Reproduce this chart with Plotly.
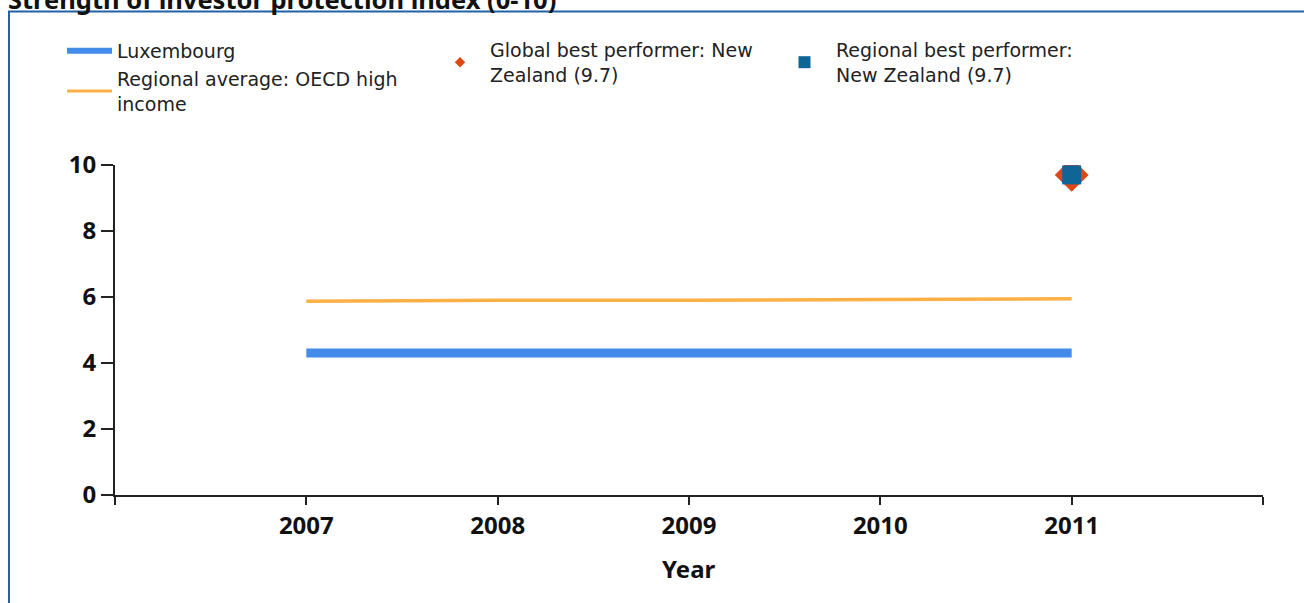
import plotly.graph_objects as go

years = [2007, 2008, 2009, 2010, 2011]
luxembourg = [4.3, 4.3, 4.3, 4.3, 4.3]
regional_avg = [5.87, 5.9, 5.9, 5.93, 5.95]
best_year = [2011]
global_best = [9.7]
regional_best = [9.7]

x_tickvals = [2006, 2007, 2008, 2009, 2010, 2011, 2012]
x_ticktext = ["", "2007", "2008", "2009", "2010", "2011", ""]
y_tickvals = [0, 2, 4, 6, 8, 10]

name_lux = "Luxembourg"
name_avg = "Regional average: OECD high<br>income"
name_glob = "Global best performer: New<br>Zealand (9.7)"
name_reg = "Regional best performer:<br>New Zealand (9.7)"

C_LUX = "#438BEB"
C_AVG = "#FDB045"
C_GLOB = "#DD4814"
C_REG = "#0E6596"

W, H = 1304, 603
L, R, T, B = 115, 41, 165, 108
PW, PH = W - L - R, H - T - B

def px_x(p):
    return (p - L) / PW

def px_y(p):
    return (H - B - p) / PH

fig = go.Figure()

# Data traces
fig.add_trace(go.Scatter(x=years, y=regional_avg, mode="lines",
                         line=dict(color=C_AVG, width=3.5), showlegend=False))
fig.add_trace(go.Scatter(x=years, y=luxembourg, mode="lines",
                         line=dict(color=C_LUX, width=9), showlegend=False))
fig.add_trace(go.Scatter(x=best_year, y=global_best, mode="markers",
                         marker=dict(symbol="diamond", color=C_GLOB, size=26),
                         showlegend=False))
fig.add_trace(go.Scatter(x=best_year, y=regional_best, mode="markers",
                         marker=dict(symbol="square", color=C_REG, size=19),
                         showlegend=False))

# Legend entries
fig.add_trace(go.Scatter(x=[None], y=[None], mode="lines", name=name_lux,
                         line=dict(color=C_LUX, width=6), legend="legend"))
fig.add_trace(go.Scatter(x=[None], y=[None], mode="lines", name=name_avg,
                         line=dict(color=C_AVG, width=3), legend="legend"))
fig.add_trace(go.Scatter(x=[None], y=[None], mode="markers", name=name_glob,
                         marker=dict(symbol="diamond", color=C_GLOB, size=8),
                         legend="legend2"))
fig.add_trace(go.Scatter(x=[None], y=[None], mode="markers", name=name_reg,
                         marker=dict(symbol="square", color=C_REG, size=12),
                         legend="legend3"))

leg_font = dict(family="DejaVu Sans, sans-serif", size=19, color="#222222")
common_leg = dict(xref="container", yref="container", xanchor="left", yanchor="top",
                  bgcolor="rgba(0,0,0,0)", borderwidth=0, font=leg_font,
                  itemclick=False, itemdoubleclick=False)

tick_font = dict(family="Noto Sans, DejaVu Sans, sans-serif", size=24, color="#111111", weight="bold")

fig.update_layout(
    width=W, height=H, autosize=False,
    margin=dict(l=L, r=R, t=T, b=B, autoexpand=False),
    paper_bgcolor="white", plot_bgcolor="white",
    legend=dict(x=62 / W, y=1 - 32 / H, itemwidth=45, **common_leg),
    legend2=dict(x=430 / W, y=1 - 31 / H, itemwidth=50, **common_leg),
    legend3=dict(x=773 / W, y=1 - 31 / H, itemwidth=53, **common_leg),
    xaxis=dict(range=[2006, 2012], tickvals=x_tickvals, ticktext=x_ticktext,
               showgrid=False, zeroline=False, showline=True, linecolor="#222222",
               linewidth=2, ticks="outside", ticklen=8, tickwidth=2, tickcolor="#222222",
               tickfont=tick_font, automargin=False),
    yaxis=dict(range=[0, 10], tickvals=y_tickvals, showgrid=False, zeroline=False,
               showline=True, linecolor="#222222", linewidth=2, ticks="outside",
               ticklen=12, tickwidth=2, tickcolor="#222222", tickfont=tick_font,
               automargin=False),
    shapes=[dict(type="rect", xref="paper", yref="paper",
                 x0=px_x(9), x1=1.2, y0=-0.6, y1=px_y(11.5),
                 line=dict(color="#2262A5", width=2), fillcolor="rgba(0,0,0,0)",
                 layer="below")],
    annotations=[
        dict(text="<b>Strength of investor protection index (0-10)</b>",
             xref="paper", yref="paper", x=px_x(6), y=px_y(18),
             xanchor="left", yanchor="bottom", showarrow=False,
             font=dict(family="Noto Sans, DejaVu Sans, sans-serif", size=25.5,
                       color="#111111")),
        dict(text="<b>Year</b>", xref="paper", yref="paper", x=0.5, y=px_y(568),
             xanchor="center", yanchor="middle", showarrow=False, font=tick_font),
    ],
)

fig.write_html("out.html", config={"displayModeBar": False},
               post_script="document.body.style.margin='0';")
